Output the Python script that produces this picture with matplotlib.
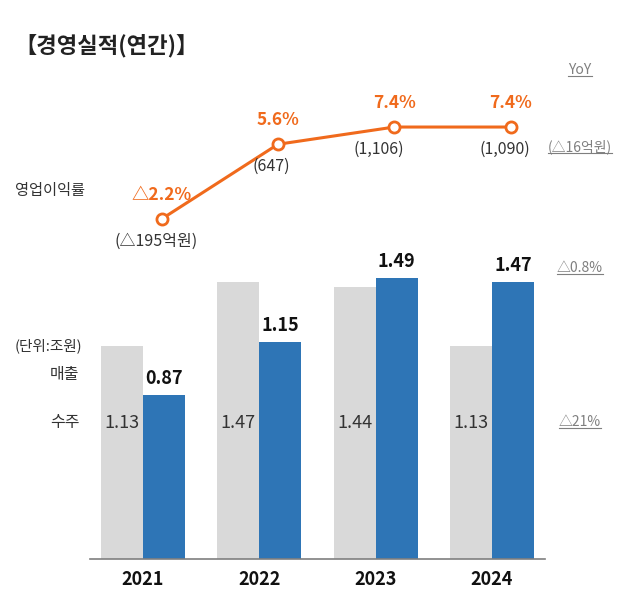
import matplotlib
matplotlib.use("Agg")
import matplotlib.pyplot as plt
from matplotlib.lines import Line2D

plt.rcParams['font.family'] = ['Noto Sans CJK KR', 'DejaVu Sans']

years = ['2021', '2022', '2023', '2024']
orders = [1.13, 1.47, 1.44, 1.13]      # 수주 (gray)
sales = [0.87, 1.15, 1.49, 1.47]       # 매출 (blue)
margin = [-2.2, 5.6, 7.4, 7.4]         # 영업이익률 (%)
margin_labels = ['△2.2%', '5.6%', '7.4%', '7.4%']
profit_labels = ['(△195억원)', '(647)', '(1,106)', '(1,090)']

GRAY = '#D9D9D9'
BLUE = '#2E75B6'
ORANGE = '#F06A1C'
W, H = 640, 604

fig = plt.figure(figsize=(6.4, 6.04), dpi=100)

def px_axes(left, top, right, bottom):
    return fig.add_axes([left / W, 1 - bottom / H, (right - left) / W, (bottom - top) / H])

xlim = (-0.456, 3.456)
bw = 0.36
xs = list(range(len(years)))

# bars
ax = px_axes(90, 257, 545, 559)
ax.bar([x - bw / 2 for x in xs], orders, width=bw, color=GRAY)
ax.bar([x + bw / 2 for x in xs], sales, width=bw, color=BLUE)
ax.set_xlim(*xlim)
ax.set_ylim(0, 1.6)
for s in ['top', 'right', 'left']:
    ax.spines[s].set_visible(False)
ax.spines['bottom'].set_color('#7F7F7F')
ax.spines['bottom'].set_linewidth(1.2)
ax.set_yticks([])
ax.set_xticks(xs)
ax.set_xticklabels(years, fontsize=13, fontweight='bold', color='#111111')
ax.tick_params(axis='x', length=0, pad=8)
for x, v in zip(xs, sales):
    ax.annotate(f'{v:.2f}', (x + bw / 2, v), xytext=(0, 5), textcoords='offset points',
                ha='center', va='bottom', fontsize=13, fontweight='bold', color='#111111')
for x, v in zip(xs, orders):
    ax.text(x - bw / 2, 0.72, f'{v:.2f}', ha='center', va='center', fontsize=13, color='#333333')

# line
lx = px_axes(90, 60, 545, 250)
lx.plot([x + 0.16 for x in xs], margin, color=ORANGE, lw=2.2, marker='o', ms=8,
        mfc='white', mec=ORANGE, mew=2)
lx.set_xlim(*xlim)
lx.set_ylim(-5.44, 14.4)
lx.axis('off')
shift = [-4, -5, -11, -4]
for x, v, t, p, dx in zip(xs, margin, margin_labels, profit_labels, shift):
    lx.annotate(t, (x + 0.16, v), xytext=(0, 11), textcoords='offset points',
                ha='center', va='bottom', fontsize=12.5, fontweight='bold', color=ORANGE)
    lx.annotate(p, (x + 0.16, v), xytext=(dx, -10), textcoords='offset points',
                ha='center', va='top', fontsize=11.5, color='#333333')

# texts
fig.text(14 / W, 1 - 46 / H, '【경영실적(연간)】', fontsize=16, fontweight='bold',
         color='#222222', va='center', ha='left')
fig.text(15 / W, 1 - 191 / H, '영업이익률', fontsize=11, color='#333333', va='center')
fig.text(15 / W, 1 - 346 / H, '(단위:조원)', fontsize=10.5, color='#333333', va='center')
fig.text(50 / W, 1 - 375 / H, '매출', fontsize=11.5, color='#333333', va='center')
fig.text(50 / W, 1 - 423 / H, '수주', fontsize=11.5, color='#333333', va='center')

under = []
for t, y in [('YoY', 70), ('(△16억원)', 147), ('△0.8%', 268), ('△21%', 422)]:
    under.append(fig.text(580 / W, 1 - y / H, t, fontsize=10, color='#7F7F7F',
                          ha='center', va='center'))

fig.canvas.draw()
r = fig.canvas.get_renderer()
for t in under:
    bb = t.get_window_extent(r).transformed(fig.transFigure.inverted())
    fig.add_artist(Line2D([bb.x0, bb.x1], [bb.y0 + 0.002, bb.y0 + 0.002],
                          color='#7F7F7F', lw=0.8, transform=fig.transFigure))

fig.savefig('out.png', dpi=100)
